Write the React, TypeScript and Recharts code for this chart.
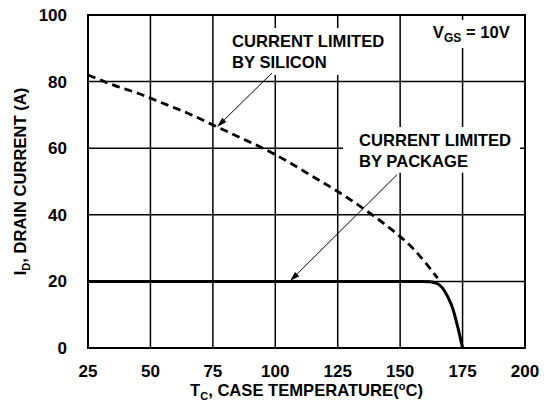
import React from 'react';
import {
  LineChart,
  Line,
  XAxis,
  YAxis,
  CartesianGrid,
  ReferenceArea,
  ReferenceLine,
} from 'recharts';

// Case temperature (°C) and drain current (A)
const siliconTemps = [25, 35, 45, 55, 65, 75, 85, 95, 105, 115, 125, 135, 145, 155, 165];
const siliconCurrent = [82, 79, 76.5, 73.5, 70.5, 67, 63.5, 60, 56, 51.5, 47, 42, 36.5, 30, 21];

const packageTemps = [25, 159, 162, 165, 167, 169, 171, 173, 175];
const packageCurrent = [20, 20, 19.9, 19.3, 18, 15.5, 12, 6.5, 0];

const xTicks = [25, 50, 75, 100, 125, 150, 175, 200];
const yTicks = [0, 20, 40, 60, 80, 100];

const siliconData = siliconTemps.map((t, i) => ({ t, v: siliconCurrent[i] }));
const packageData = packageTemps.map((t, i) => ({ t, v: packageCurrent[i] }));

const FONT = '"Liberation Sans", Arial, Helvetica, sans-serif';
const textStyle: React.CSSProperties = { fontFamily: FONT, fontWeight: 700, fontSize: 16.6, fill: '#000' };

const XTick = (props: any) => {
  const { x, y, payload } = props;
  return (
    <text x={x} y={y + 29} textAnchor="middle" style={{ ...textStyle, fontSize: 17 }}>
      {payload.value}
    </text>
  );
};

const YTick = (props: any) => {
  const { x, y, payload } = props;
  return (
    <text x={x - 21} y={y + 6} textAnchor="end" style={{ ...textStyle, fontSize: 17 }}>
      {payload.value}
    </text>
  );
};

const XTitle = (props: any) => {
  const vb = props.viewBox;
  const cx = vb.x + vb.width / 2;
  const by = vb.y + 48;
  return (
    <text x={cx} y={by} textAnchor="middle" style={textStyle}>
      T<tspan fontSize={11} dy={4}>C</tspan>
      <tspan dy={-4}>, CASE TEMPERATURE(</tspan>
      <tspan fontSize={11} dy={-6}>o</tspan>
      <tspan dy={6}>C)</tspan>
    </text>
  );
};

const YTitle = (props: any) => {
  const vb = props.viewBox;
  const cy = vb.y + vb.height / 2;
  const bx = 26;
  return (
    <text
      x={bx}
      y={cy}
      transform={`rotate(-90, ${bx}, ${cy})`}
      textAnchor="middle"
      style={textStyle}
    >
      I<tspan fontSize={11} dy={4}>D</tspan>
      <tspan dy={-4}>, DRAIN CURRENT (A)</tspan>
    </text>
  );
};

const boxLabel = (lines: string[], dx: number, dy: number) => (props: any) => {
  const vb = props.viewBox;
  return (
    <g>
      {lines.map((l, i) => (
        <text key={i} x={vb.x + dx} y={vb.y + dy + i * 21} style={textStyle}>
          {l}
        </text>
      ))}
    </g>
  );
};

const vgsLabel = (props: any) => {
  const vb = props.viewBox;
  return (
    <text x={vb.x + 5} y={vb.y + 18} style={textStyle}>
      V<tspan fontSize={12} dy={4}>GS</tspan>
      <tspan dy={-4}> = 10V</tspan>
    </text>
  );
};

const Arrow = (props: any) => {
  const { x1, y1, x2, y2 } = props;
  const ang = Math.atan2(y2 - y1, x2 - x1);
  const len = 10;
  const w = 3;
  const bx = x2 - len * Math.cos(ang);
  const by = y2 - len * Math.sin(ang);
  const px = -Math.sin(ang) * w;
  const py = Math.cos(ang) * w;
  return (
    <g>
      <line x1={x1} y1={y1} x2={bx} y2={by} stroke="#000" strokeWidth={1} />
      <polygon points={`${x2},${y2} ${bx + px},${by + py} ${bx - px},${by - py}`} fill="#000" />
    </g>
  );
};

export default function App() {
  return (
    <div style={{ position: 'absolute', left: 0, top: 0, width: 547, height: 407, background: '#fff' }}>
      <LineChart width={547} height={407} margin={{ top: 15, right: 22, bottom: 0, left: 0 }}>
        <CartesianGrid stroke="#000" strokeWidth={1.5} />
        <XAxis
          type="number"
          dataKey="t"
          domain={[25, 200]}
          ticks={xTicks}
          allowDataOverflow
          height={59}
          tickSize={0}
          tickMargin={0}
          tickLine={false}
          axisLine={false}
          tick={<XTick />}
          label={XTitle as any}
        />
        <YAxis
          type="number"
          domain={[0, 100]}
          ticks={yTicks}
          width={88}
          tickSize={0}
          tickMargin={0}
          tickLine={false}
          axisLine={false}
          tick={<YTick />}
          label={YTitle as any}
        />
        <ReferenceArea
          x1={79.9}
          x2={146.7}
          y1={82}
          y2={96.1}
          fill="#fff"
          fillOpacity={1}
          stroke="none"
          label={boxLabel(['CURRENT LIMITED', 'BY SILICON'], 7, 19) as any}
        />
        <ReferenceArea
          x1={127.1}
          x2={198}
          y1={52.6}
          y2={66.4}
          fill="#fff"
          fillOpacity={1}
          stroke="none"
          label={boxLabel(['CURRENT LIMITED', 'BY PACKAGE'], 16, 19) as any}
        />
        <ReferenceArea
          x1={161.1}
          x2={198}
          y1={90.1}
          y2={98.5}
          fill="#fff"
          fillOpacity={1}
          stroke="none"
          label={vgsLabel as any}
        />
        <ReferenceArea x1={25} x2={200} y1={0} y2={100} fill="none" stroke="#000" strokeWidth={2} />
        <ReferenceLine
          segment={[
            { x: 98.7, y: 82.6 },
            { x: 76.7, y: 66.4 },
          ]}
          shape={Arrow}
        />
        <ReferenceLine
          segment={[
            { x: 148.7, y: 52 },
            { x: 105.9, y: 20.1 },
          ]}
          shape={Arrow}
        />
        <Line
          data={siliconData}
          dataKey="v"
          type="monotone"
          stroke="#000"
          strokeWidth={2.8}
          strokeDasharray="8 5"
          dot={false}
          isAnimationActive={false}
        />
        <Line
          data={packageData}
          dataKey="v"
          type="monotone"
          stroke="#000"
          strokeWidth={3}
          dot={false}
          isAnimationActive={false}
        />
      </LineChart>
    </div>
  );
}
